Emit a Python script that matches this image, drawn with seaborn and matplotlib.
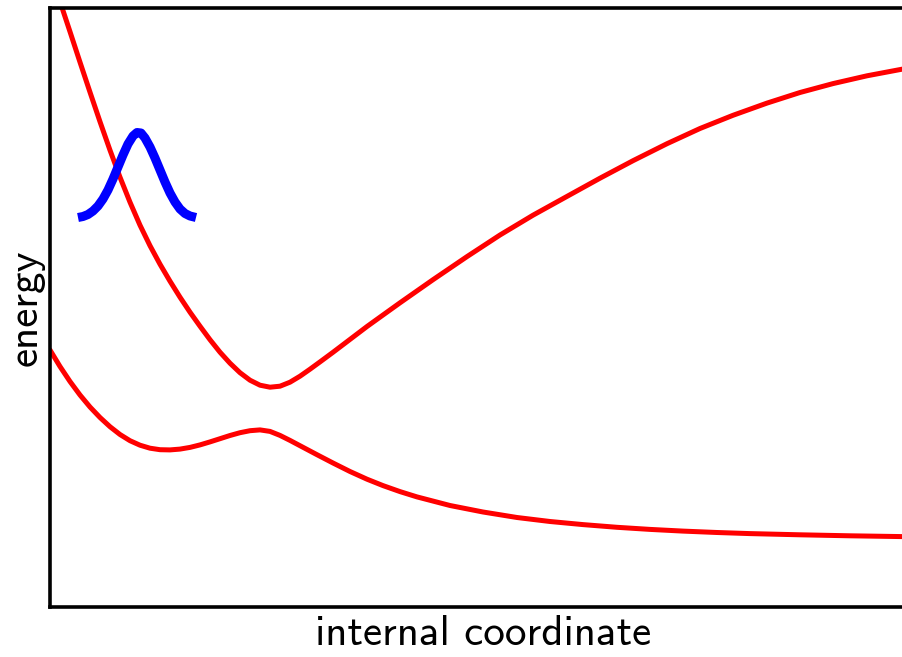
import numpy as np
import pandas as pd
import matplotlib
matplotlib.use("Agg")
import matplotlib.pyplot as plt
import seaborn as sns

# Excited-state potential curve (arbitrary units)
upper_x = [0.07, 0.13, 0.20, 0.30, 0.40, 0.50, 0.60, 0.70, 0.80, 0.90, 1.00, 1.10,
           1.20, 1.30, 1.40, 1.50, 1.60, 1.70, 1.80, 1.90, 2.00, 2.10, 2.20, 2.30,
           2.40, 2.50, 2.60, 2.70, 2.83, 3.00, 3.17, 3.33, 3.50, 3.83, 4.17, 4.50,
           4.83, 5.17, 5.50, 5.83, 6.17, 6.50, 6.83, 7.17, 7.50, 7.83, 8.17, 8.52, 8.66]
upper_e = [6.150, 5.964, 5.753, 5.448, 5.148, 4.853, 4.568, 4.298, 4.048, 3.818,
           3.613, 3.428, 3.258, 3.098, 2.948, 2.808, 2.673, 2.548, 2.438, 2.343,
           2.268, 2.218, 2.198, 2.208, 2.248, 2.308, 2.378, 2.451, 2.547, 2.676,
           2.805, 2.920, 3.042, 3.273, 3.504, 3.720, 3.918, 4.106, 4.288, 4.463,
           4.633, 4.785, 4.917, 5.039, 5.145, 5.234, 5.312, 5.378, 5.402]

# Ground-state potential curve
lower_x = [0.00, 0.10, 0.20, 0.30, 0.40, 0.50, 0.60, 0.70, 0.80, 0.90, 1.00, 1.10,
           1.20, 1.30, 1.40, 1.50, 1.60, 1.70, 1.80, 1.90, 2.00, 2.10, 2.20, 2.30,
           2.40, 2.50, 2.67, 2.83, 3.00, 3.17, 3.33, 3.50, 3.67, 4.00, 4.33, 4.67,
           5.00, 5.33, 5.67, 6.00, 6.33, 6.67, 7.00, 7.50, 8.00, 8.66]
lower_e = [2.570, 2.405, 2.255, 2.120, 2.000, 1.895, 1.803, 1.725, 1.663, 1.618,
           1.588, 1.573, 1.571, 1.579, 1.596, 1.621, 1.651, 1.683, 1.715, 1.743,
           1.763, 1.771, 1.756, 1.716, 1.666, 1.613, 1.523, 1.440, 1.355, 1.278,
           1.214, 1.154, 1.101, 1.015, 0.950, 0.895, 0.855, 0.824, 0.797, 0.776,
           0.759, 0.745, 0.734, 0.722, 0.712, 0.702]

# Wave packet placed on the excited-state curve
packet_x = [0.28, 0.33, 0.38, 0.43, 0.48, 0.53, 0.58, 0.63, 0.68, 0.73, 0.78, 0.83,
            0.87, 0.91, 0.95, 1.00, 1.05, 1.10, 1.15, 1.20, 1.25, 1.30, 1.35, 1.40, 1.46]
packet_e = [3.895, 3.905, 3.925, 3.960, 4.010, 4.080, 4.170, 4.280, 4.400, 4.520,
            4.630, 4.710, 4.745, 4.740, 4.690, 4.600, 4.490, 4.370, 4.250, 4.140,
            4.050, 3.980, 3.935, 3.910, 3.895]

sns.set_style("white")
plt.rcParams["font.family"] = ["cmss10", "DejaVu Sans"]
plt.rcParams["text.color"] = "black"
plt.rcParams["axes.labelcolor"] = "black"

fig = plt.figure(figsize=(9.02, 6.57), dpi=100)
ax = fig.add_axes([50 / 902, 50 / 657, 866 / 902, 599 / 657])

upper = pd.DataFrame({"x": upper_x, "e": upper_e})
lower = pd.DataFrame({"x": lower_x, "e": lower_e})
packet = pd.DataFrame({"x": packet_x, "e": packet_e})

sns.lineplot(data=upper, x="x", y="e", ax=ax, color="#ff0000", lw=3.6,
             estimator=None, sort=False, solid_joinstyle="round")
sns.lineplot(data=lower, x="x", y="e", ax=ax, color="#ff0000", lw=3.6,
             estimator=None, sort=False, solid_joinstyle="round")
sns.lineplot(data=packet, x="x", y="e", ax=ax, color="#0000ff", lw=6.5,
             estimator=None, sort=False, solid_capstyle="butt",
             solid_joinstyle="round")

ax.set_xlim(0, 8.66)
ax.set_ylim(0, 5.99)
ax.set_xticks([])
ax.set_yticks([])
for sp in ax.spines.values():
    sp.set_color("black")
    sp.set_linewidth(2.6)

ax.set_xlabel("internal coordinate", fontsize=31, labelpad=6, color="black")
ax.set_ylabel("energy", fontsize=31, labelpad=4, color="black")

fig.savefig("out.png", dpi=100)
